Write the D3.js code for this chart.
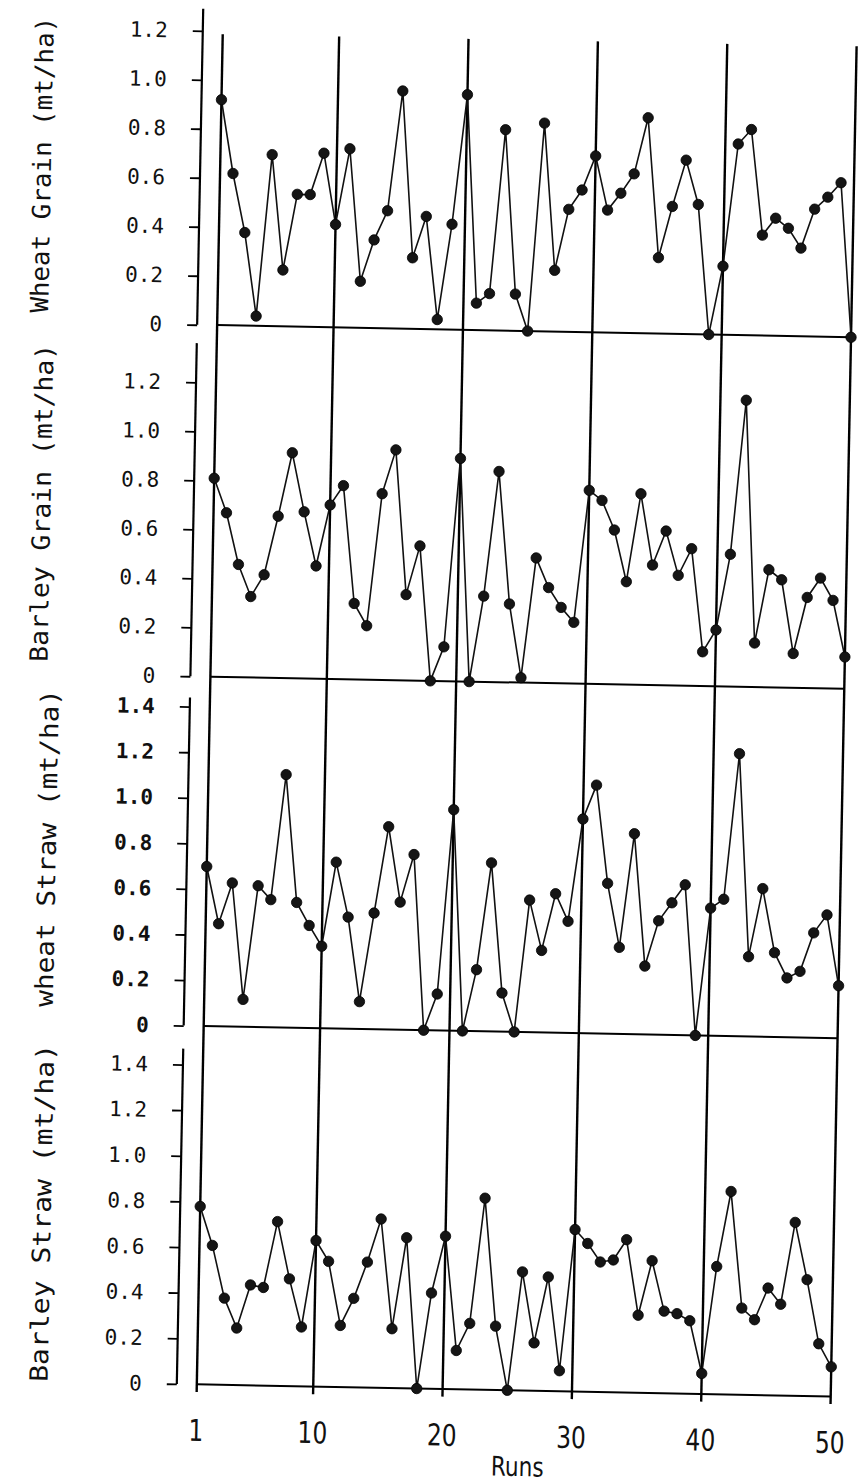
<!DOCTYPE html>
<html>
<head>
<meta charset="utf-8">
<script src="https://cdn.jsdelivr.net/npm/d3@7"></script>
<style>
  body { margin: 0; background: #fff; }
</style>
</head>
<body>
<div id="chart"></div>
<script>
// Runs (x categories) and the runs that get a full-height line
const runs = d3.range(1, 51);
const runTicks = [1, 10, 20, 30, 40, 50];

// Yields per run
const wheatGrain = [0.92, 0.62, 0.38, 0.04, 0.70, 0.23, 0.54, 0.54, 0.71, 0.42,
                    0.73, 0.19, 0.36, 0.48, 0.97, 0.29, 0.46, 0.04, 0.43, 0.96,
                    0.11, 0.15, 0.82, 0.15, 0.00, 0.85, 0.25, 0.50, 0.58, 0.72,
                    0.50, 0.57, 0.65, 0.88, 0.31, 0.52, 0.71, 0.53, 0.00, 0.28,
                    0.78, 0.84, 0.41, 0.48, 0.44, 0.36, 0.52, 0.57, 0.63, 0.00];
const barleyGrain = [0.81, 0.67, 0.46, 0.33, 0.42, 0.66, 0.92, 0.68, 0.46, 0.71,
                     0.79, 0.31, 0.22, 0.76, 0.94, 0.35, 0.55, 0.00, 0.14, 0.91,
                     0.00, 0.35, 0.86, 0.32, 0.02, 0.51, 0.39, 0.31, 0.25, 0.79,
                     0.75, 0.63, 0.42, 0.78, 0.49, 0.63, 0.45, 0.56, 0.14, 0.23,
                     0.54, 1.17, 0.18, 0.48, 0.44, 0.14, 0.37, 0.45, 0.36, 0.13];
const wheatStraw = [0.70, 0.45, 0.63, 0.12, 0.62, 0.56, 1.11, 0.55, 0.45, 0.36,
                    0.73, 0.49, 0.12, 0.51, 0.89, 0.56, 0.77, 0.00, 0.16, 0.97,
                    0.00, 0.27, 0.74, 0.17, 0.00, 0.58, 0.36, 0.61, 0.49, 0.94,
                    1.09, 0.66, 0.38, 0.88, 0.30, 0.50, 0.58, 0.66, 0.00, 0.56,
                    0.60, 1.24, 0.35, 0.65, 0.37, 0.26, 0.29, 0.46, 0.54, 0.23];
const barleyStraw = [0.78, 0.61, 0.38, 0.25, 0.44, 0.43, 0.72, 0.47, 0.26, 0.64,
                     0.55, 0.27, 0.39, 0.55, 0.74, 0.26, 0.66, 0.00, 0.42, 0.67,
                     0.17, 0.29, 0.84, 0.28, 0.00, 0.52, 0.21, 0.50, 0.09, 0.71,
                     0.65, 0.57, 0.58, 0.67, 0.34, 0.58, 0.36, 0.35, 0.32, 0.09,
                     0.56, 0.89, 0.38, 0.33, 0.47, 0.40, 0.76, 0.51, 0.23, 0.13];

const ticks12 = [0, 0.2, 0.4, 0.6, 0.8, 1.0, 1.2];
const ticks14 = [0, 0.2, 0.4, 0.6, 0.8, 1.0, 1.2, 1.4];

const width = 861, height = 1483;

const svg = d3.select("#chart").append("svg")
    .attr("width", width)
    .attr("height", height);
svg.append("rect").attr("width", width).attr("height", height).attr("fill", "#fff");

// the original is a scan, turned a little clockwise
const g = svg.append("g").attr("transform", "rotate(1.1,520,700)");

const x = d3.scaleLinear().domain([1, 50]).range([210, 844]);
const axisX = 190;

const panels = [
    { title: "Wheat Grain (mt/ha)",  values: wheatGrain,  ticks: ticks12, base: 331,    top: 37,    axisTop: 1.29, tx: 32, ty: 174,  tl: 296, bold: false },
    { title: "Barley Grain (mt/ha)", values: barleyGrain, ticks: ticks12, base: 682.6,  top: 388.6, axisTop: 1.36, tx: 38, ty: 512,  tl: 318, bold: false },
    { title: "wheat Straw (mt/ha)",  values: wheatStraw,  ticks: ticks14, base: 1032,   top: 713,   axisTop: 1.44, tx: 50, ty: 857,  tl: 318, bold: true },
    { title: "Barley Straw (mt/ha)", values: barleyStraw, ticks: ticks14, base: 1390.4, top: 1071,  axisTop: 1.47, tx: 52, ty: 1222, tl: 338, bold: false }
];

const fmt = d => d === 0 ? "0" : d3.format(".1f")(d);

// full-height run lines
g.selectAll("line.run")
    .data(runTicks)
    .enter().append("line")
    .attr("class", "run")
    .attr("x1", d => x(d)).attr("x2", d => x(d))
    .attr("y1", 40).attr("y2", 1398)
    .attr("stroke", "#000")
    .attr("stroke-width", 2.4);

panels.forEach(p => {
    const y = d3.scaleLinear().domain([0, d3.max(p.ticks)]).range([p.base, p.top]);

    // y axis
    const ax = g.append("g")
        .attr("transform", `translate(${axisX},0)`)
        .call(d3.axisLeft(y).tickValues(p.ticks).tickSize(10).tickPadding(25).tickFormat(fmt));
    ax.select(".domain").remove();
    ax.selectAll(".tick line").attr("stroke", "#000").attr("stroke-width", 1.8);
    ax.selectAll(".tick text")
        .attr("fill", "#111")
        .style("font-family", "'DejaVu Sans Mono', monospace")
        .style("font-size", "21px")
        .style("font-weight", p.bold ? "bold" : "normal");

    g.append("line")
        .attr("x1", axisX).attr("x2", axisX)
        .attr("y1", y(0)).attr("y2", y(p.axisTop))
        .attr("stroke", "#000").attr("stroke-width", 2.2);

    // zero line
    g.append("line")
        .attr("x1", x(1)).attr("x2", x(50))
        .attr("y1", y(0)).attr("y2", y(0))
        .attr("stroke", "#000").attr("stroke-width", 2);

    // title
    g.append("text")
        .attr("transform", `translate(${p.tx},${p.ty}) rotate(-90)`)
        .attr("text-anchor", "middle")
        .attr("dy", "0.35em")
        .attr("textLength", p.tl)
        .attr("lengthAdjust", "spacingAndGlyphs")
        .style("font-family", "'DejaVu Sans Mono', monospace")
        .style("font-size", "25px")
        .attr("fill", "#111")
        .text(p.title);

    const line = d3.line()
        .x((d, i) => x(runs[i]))
        .y(d => y(d));

    g.append("path")
        .datum(p.values)
        .attr("d", line)
        .attr("fill", "none")
        .attr("stroke", "#111")
        .attr("stroke-width", 1.6);

    g.selectAll(null)
        .data(p.values)
        .enter().append("circle")
        .attr("cx", (d, i) => x(runs[i]))
        .attr("cy", d => y(d))
        .attr("r", 5.2)
        .attr("fill", "#151515")
        .attr("stroke", "#000")
        .attr("stroke-width", 0.8);
});

// bottom run axis, narrow typeface
g.selectAll("text.run")
    .data(runTicks)
    .enter().append("text")
    .attr("class", "run")
    .attr("transform", d => `translate(${x(d)},1447) scale(0.78,1)`)
    .attr("text-anchor", "middle")
    .style("font-family", "'DejaVu Sans', sans-serif")
    .style("font-size", "30px")
    .attr("fill", "#111")
    .text(d => d);

g.append("text")
    .attr("transform", "translate(532,1476) scale(0.8,1)")
    .attr("text-anchor", "middle")
    .style("font-family", "'DejaVu Sans', sans-serif")
    .style("font-size", "27px")
    .attr("fill", "#111")
    .text("Runs");
</script>
</body>
</html>
